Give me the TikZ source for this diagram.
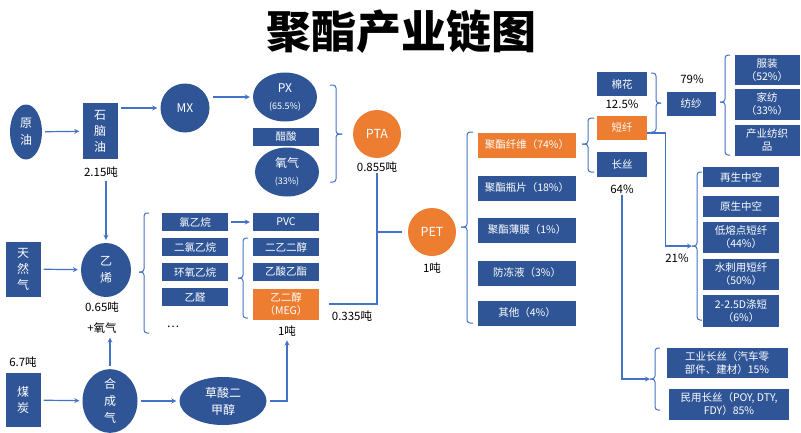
\documentclass[tikz,border=0pt]{standalone}
\usepackage{fontspec}
\setmainfont{Noto Sans CJK SC}
\usepackage{tikz}
\usetikzlibrary{positioning}
\usetikzlibrary{arrows,shapes}
\definecolor{chainblue}{HTML}{2F5597}
\definecolor{chainorange}{HTML}{ED7D31}
\definecolor{chainline}{HTML}{4472C4}
\tikzstyle{bluebox}=[rectangle,fill=chainblue,text=white,inner sep=0pt,align=center,font=\fontsize{10.5}{13.5}\selectfont]
\tikzstyle{tallbox}=[bluebox,font=\fontsize{12}{16}\selectfont]
\tikzstyle{orangebox}=[bluebox,fill=chainorange]
\tikzstyle{blueoval}=[ellipse,fill=chainblue,text=white,inner sep=0pt,align=center,font=\fontsize{12}{17}\selectfont]
\tikzstyle{orangedisc}=[circle,fill=chainorange,text=white,minimum size=48pt,inner sep=0pt,font=\fontsize{12.5}{14}\selectfont]
\tikzstyle{edge} = [draw,line width=1.2pt,chainline,->,shorten >=3pt,shorten <=3pt]
\tikzstyle{undirectededge} = [draw,line width=1.2pt,chainline]
\tikzstyle{brace} = [draw,line width=1pt,chainline,rounded corners=3pt]
\tikzstyle{weight} = [font=\fontsize{11.5}{13}\selectfont,inner sep=1pt]

\begin{document}
\begin{tikzpicture}[x=1pt,y=-1pt,>=stealth]
    \useasboundingbox (0,0) rectangle (801,432);
    \path[fill=white] (0,0) rectangle (801,432);

    \node[font=\fontsize{45}{48}\selectfont\bfseries] (title) at (401,32) {聚酯产业链图};

    % First we draw the boxes
    \foreach \pos/\name/\w/\h/\label in {{(100,131)/naph/35/56/{石\\脑\\油}}, {(23,269)/gas/35/55/{天\\然\\气}}, {(23,400)/coal/35/54/{煤\\炭}}}
        \node[tallbox,minimum width=\w pt,minimum height=\h pt] (\name) at \pos {\label};

    \foreach \pos/\name/\w/\h/\label in {{(286,137)/acet/66/18/{醋酸}}, {(195,222)/ecl/66/18/{氯乙烷}}, {(195,247)/edc/66/18/{二氯乙烷}}, {(195,272)/eo/66/18/{环氧乙烷}}, {(195,297)/ald/66/18/{乙醛}}, {(286,222)/pvc/66/18/{PVC}}, {(286,247)/deg/66/18/{二乙二醇}}, {(286,272)/eac/66/18/{乙酸乙酯}}}
        \node[bluebox,minimum width=\w pt,minimum height=\h pt] (\name) at \pos {\label};

    \foreach \pos/\name/\w/\h/\label in {{(527,188)/bottle/98/25/{聚酯瓶片（18\%）}}, {(527,230)/film/98/25/{聚酯薄膜（1\%）}}, {(527,273)/anti/98/25/{防冻液（3\%）}}, {(527,313)/other/98/25/{其他（4\%）}}, {(622,84)/cotton/50/24/{棉花}}, {(622,164)/fil/50/25/{长丝}}, {(691,104)/spin/49/24/{纺纱}}}
        \node[bluebox,minimum width=\w pt,minimum height=\h pt] (\name) at \pos {\label};

    \foreach \pos/\name/\w/\h/\label in {{(767,70)/cloth/65/30/{服装\\（52\%）}}, {(767,104)/home/65/31/{家纺\\（33\%）}}, {(767,140)/indtex/65/31/{产业纺织\\品}}, {(741,177)/rhc/76/20/{再生中空}}, {(741,206)/vhc/76/21/{原生中空}}, {(741,237)/lmf/76/31/{低熔点短纤\\（44\%）}}, {(741,274)/spl/76/31/{水刺用短纤\\（50\%）}}, {(741,311)/dsf/76/32/{2-2.5D涤短\\（6\%）}}, {(727,363)/indf/121/30/{工业长丝（汽车零\\部件、建材）15\%}}, {(729,404)/civf/120/31/{民用长丝（POY, DTY,\\FDY）85\%}}}
        \node[bluebox,minimum width=\w pt,minimum height=\h pt] (\name) at \pos {\label};

    \foreach \pos/\name/\w/\h/\label in {{(527,145)/fiber/98/25/{聚酯纤维（74\%）}}, {(622,128)/sf/50/24/{短纤}}, {(286,304)/meg/66/31/{乙二醇\\（MEG）}}}
        \node[orangebox,minimum width=\w pt,minimum height=\h pt] (\name) at \pos {\label};

    % Then the ovals and discs
    \foreach \pos/\name/\w/\h/\label in {{(26,132)/crude/32/55/{原\\油}}, {(185,108)/mx/49/49/{MX}}, {(285,97)/px/64/49/{PX\\{\fontsize{9}{11}\selectfont (65.5\%)}}}, {(287,172)/oxy/64/49/{氧气\\{\fontsize{9}{11}\selectfont (33\%)}}}, {(106,270)/eth/50/54/{乙\\烯}}, {(110,401)/syn/55/57/{合\\成\\气}}, {(223,401)/dmo/87/48/{草酸二\\甲醇}}}
        \node[blueoval,minimum width=\w pt,minimum height=\h pt] (\name) at \pos {\label};

    \node[orangedisc] (pta) at (377,134) {PTA};
    \node[orangedisc] (pet) at (432,232) {PET};

    % Quantities and shares
    \foreach \pos/\name/\label in {{(101,172)/naphL/2.15吨}, {(377,167)/ptaL/0.855吨}, {(432,268)/petL/1吨}, {(102,307)/ethL/0.65吨}, {(102,328)/oxyL/+氧气}, {(23,362)/coalL/6.7吨}, {(287,331)/megL/1吨}, {(352,316)/mixL/0.335吨}, {(173,327)/more/…}, {(622,104)/cotL/12.5\%}, {(622,189)/filL/64\%}, {(692,79)/spinL/79\%}, {(677,258)/sfL/21\%}}
        \node[weight] (\name) at \pos {\label};

    % Braces: x / top / bottom / tip / hook
    \foreach \x/\top/\bot/\tip/\d in {336/85/182/134/-6, 467/132/323/227/6, 588/118/172/144/6, 656/73/132/103/-5, 725/55/155/102/5, 697/172/320/246/5, 655/348/410/379/5, 144/213/333/272/5, 243/238/318/278/5}
    {
        \draw[brace] (\x+\d,\top) -- (\x,\top) -- (\x,\tip) -- (\x-\d,\tip);
        \draw[brace] (\x+\d,\bot) -- (\x,\bot) -- (\x,\tip) -- (\x-\d,\tip);
    }
    \coordinate (sfTip) at (692,246);
    \coordinate (filTip) at (650,379);

    % Connect nodes with edges
    \foreach \source/\dest in {crude/naph, gas/eth, coal/syn, syn/dmo, ecl/pvc}
        \path[edge] (\source) -- (\dest);
    \path[edge] (naph.east |- mx.west) -- (mx.west);
    \path[edge] (mx.east |- px.west) -- (px.west);
    \path[edge] (eth.north |- naphL.south) -- (eth.north);
    \path[edge] (syn.north) -- (syn.north |- oxyL.south);
    \path[edge] (dmo.east) -| (megL.south);
    \path[edge,shorten <=0pt,shorten >=0pt] ([yshift=-5pt]sf.east) -- ++(18,0) |- (sfTip);
    \path[edge,shorten <=0pt,shorten >=0pt] (filL.south) |- (filTip);
    \path[undirectededge,shorten <=10pt] (meg.east) -| (ptaL.south);
    \path[undirectededge,shorten >=6pt] (ptaL.south |- pet.west) -- (pet.west);

\end{tikzpicture}
\end{document}
